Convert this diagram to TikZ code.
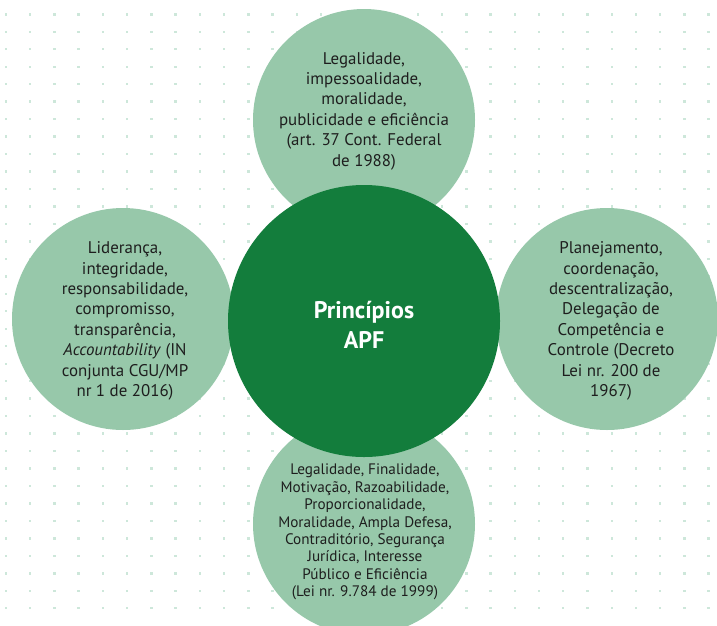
\documentclass[tikz,border=0pt]{standalone}
\usepackage{fontspec}
\setmainfont{PT Sans}
\definecolor{lightg}{HTML}{97C8AA}
\definecolor{darkg}{HTML}{137D3C}
\definecolor{dotc}{HTML}{CDE7DA}
\definecolor{txt}{HTML}{1E1E1E}
\begin{document}
\begin{tikzpicture}[x=1pt,y=-1pt,
  lightcirc/.style={circle,fill=lightg,draw=none,minimum size=222pt,inner sep=0pt},
  darkcirc/.style={circle,fill=darkg,draw=none,minimum size=272pt,inner sep=0pt},
  bodytext/.style={align=center,text=txt,font=\fontsize{16.9}{20.4}\selectfont,inner sep=0pt},
  smalltext/.style={align=center,text=txt,font=\fontsize{15.2}{17.4}\selectfont,inner sep=0pt},
  centertext/.style={align=center,text=white,font=\bfseries\fontsize{24}{30}\selectfont,inner sep=0pt}]
\useasboundingbox (0,0) rectangle (717,625);
\fill[white] (0,0) rectangle (717,625);
\foreach \i in {0,...,29}{
  \foreach \j in {0,...,34}{
    \fill[dotc] ({6+24.23*\i-1.2},{14.3+17.47*\j-1.2}) rectangle ++(2.4,2.4);
  }
}
\node[lightcirc] (top) at (364,120) {};
\node[lightcirc] (left) at (123,319) {};
\node[lightcirc] (right) at (607,319) {};
\node[lightcirc] (bottom) at (364,524) {};
\node[darkcirc] (center) at (364,321) {};
\node[bodytext] (toptext) at ([yshift=9pt]top.center) {Legalidade,\\impessoalidade,\\moralidade,\\publicidade e eficiência\\(art. 37 Cont. Federal\\de 1988)};
\node[bodytext] (lefttext) at ([xshift=2pt,yshift=-2pt]left.center) {Liderança,\\integridade,\\responsabilidade,\\compromisso,\\transparência,\\\textit{Accountability} (IN\\conjunta CGU/MP\\nr 1 de 2016)};
\node[bodytext] (righttext) at ([xshift=4pt,yshift=-2pt]right.center) {Planejamento,\\coordenação,\\descentralização,\\Delegação de\\Competência e\\Controle (Decreto\\Lei nr. 200 de\\1967)};
\node[smalltext] (bottomtext) at ([xshift=1pt,yshift=-8pt]bottom.center) {Legalidade, Finalidade,\\Motivação, Razoabilidade,\\Proporcionalidade,\\Moralidade, Ampla Defesa,\\Contraditório, Segurança\\Jurídica, Interesse\\Público e Eficiência\\(Lei nr. 9.784 de 1999)};
\node[centertext] (centerlabel) at ([yshift=-4pt]center.center) {Princípios\\APF};
\end{tikzpicture}
\end{document}
